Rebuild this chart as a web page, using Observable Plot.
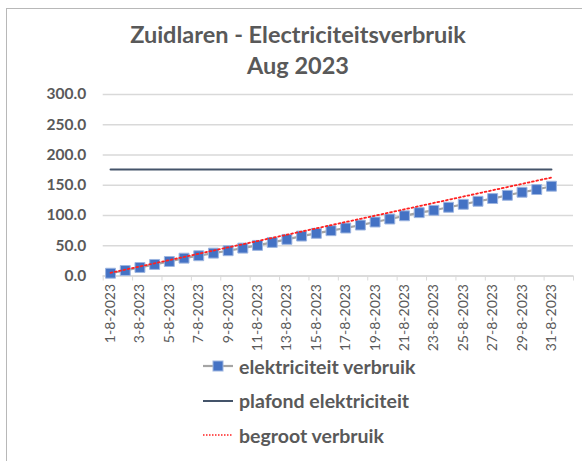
<!DOCTYPE html>
<html>
<head>
<meta charset="utf-8">
<script src="https://cdn.jsdelivr.net/npm/d3@7"></script>
<script src="https://cdn.jsdelivr.net/npm/@observablehq/plot@0.6"></script>
<style>
  body { margin: 0; background: #fff; font-family: Lato, "Open Sans", sans-serif; }
  #wrap { position: relative; width: 582px; height: 461px; overflow: hidden; }
  #frame { position: absolute; left: 6px; top: 8px; width: 700px; height: 600px;
           border-top: 1.5px solid #b8b8b8; border-left: 1.5px solid #b8b8b8; }
  #title { position: absolute; left: 0; top: 19px; width: 596px; text-align: center;
           font: bold 23.5px Lato, sans-serif; color: #595959; line-height: 31px; }
  #chart { position: absolute; left: 0; top: 84px; }
  #legend { position: absolute; left: 202px; top: 349px; }
  .row { display: flex; align-items: center; height: 34.5px; font: bold 19.5px Lato, sans-serif; color: #595959; }
  .row svg { margin-right: 5px; }
</style>
</head>
<body>
<div id="wrap">
  <div id="frame"></div>
  <div id="title">Zuidlaren - Electriciteitsverbruik<br>Aug 2023</div>
  <div id="chart"></div>
  <div id="legend"></div>
</div>
<script>
// ---- data ----
const days = [1,2,3,4,5,6,7,8,9,10,11,12,13,14,15,16,17,18,19,20,21,22,23,24,25,26,27,28,29,30,31];
const dateLabels = ["1-8-2023","2-8-2023","3-8-2023","4-8-2023","5-8-2023","6-8-2023","7-8-2023","8-8-2023","9-8-2023","10-8-2023",
  "11-8-2023","12-8-2023","13-8-2023","14-8-2023","15-8-2023","16-8-2023","17-8-2023","18-8-2023","19-8-2023","20-8-2023",
  "21-8-2023","22-8-2023","23-8-2023","24-8-2023","25-8-2023","26-8-2023","27-8-2023","28-8-2023","29-8-2023","30-8-2023","31-8-2023"];
const verbruik = [4.6, 9.1, 14.1, 19.1, 24.0, 29.5, 33.5, 37.8, 41.8, 46.1, 50.6, 55.5, 60.5, 66.0, 70.5, 74.9,
  79.3, 84.2, 89.2, 94.2, 99.5, 104.7, 108.6, 113.6, 118.5, 123.5, 128.0, 133.4, 138.4, 142.9, 148.4];
const plafond = [176,176,176,176,176,176,176,176,176,176,176,176,176,176,176,176,
  176,176,176,176,176,176,176,176,176,176,176,176,176,176,176];
const begroot = [5.25, 10.5, 15.75, 21, 26.25, 31.5, 36.75, 42, 47.25, 52.5, 57.75, 63, 68.25, 73.5, 78.75, 84,
  89.25, 94.5, 99.75, 105, 110.25, 115.5, 120.75, 126, 131.25, 136.5, 141.75, 147, 152.25, 157.5, 162.75];
const yTicks = [0, 50, 100, 150, 200, 250, 300];
const seriesNames = ["elektriciteit verbruik", "plafond elektriciteit", "begroot verbruik"];

const rows = days.map((d, i) => ({day: d, verbruik: verbruik[i], plafond: plafond[i], begroot: begroot[i]}));
const labelDays = days.filter(d => d % 2 === 1);
const boundaries = [0.5, 2.5, 4.5, 6.5, 8.5, 10.5, 12.5, 14.5, 16.5, 18.5, 20.5, 22.5, 24.5, 26.5, 28.5, 30.5, 32.5];

const chart = Plot.plot({
  width: 582,
  height: 262,
  marginLeft: 102.7,
  marginRight: 9,
  marginTop: 10,
  marginBottom: 70.5,
  style: {fontFamily: "Lato, sans-serif", color: "#595959", background: "transparent", overflow: "visible"},
  x: {type: "linear", domain: [0.5, 32.5], label: null},
  y: {domain: [0, 300], label: null},
  marks: [
    Plot.gridY(yTicks, {stroke: "#d9d9d9", strokeOpacity: 1, strokeWidth: 1.4}),
    Plot.axisY(yTicks, {tickSize: 0, tickPadding: 17, tickFormat: d => d.toFixed(1), fontSize: 15.5, fontWeight: "bold", fill: "#595959", label: null}),
    Plot.ruleY([0], {stroke: "#d9d9d9", strokeWidth: 1.4}),
    Plot.axisX(boundaries, {tickSize: 5, stroke: "#d9d9d9", tickFormat: () => "", label: null}),
    Plot.axisX(labelDays, {tickSize: 0, tickPadding: 8, tickRotate: -90, fontSize: 14, fill: "#595959", label: null,
      tickFormat: d => dateLabels[d - 1]}),
    Plot.line(rows, {x: "day", y: "plafond", stroke: "#44546a", strokeWidth: 2}),
    Plot.line(rows, {x: "day", y: "verbruik", stroke: "#a5a5a5", strokeWidth: 2.2}),
    Plot.dot(rows, {x: "day", y: "verbruik", symbol: "square", r: 5.6, fill: "#4472c4", stroke: "#9db5e0", strokeWidth: 1}),
    Plot.line(rows, {x: "day", y: "begroot", stroke: "#ff2020", strokeWidth: 1.8, strokeDasharray: "1.8,2.6"})
  ]
});
document.getElementById("chart").appendChild(chart);

// ---- legend ----
const legend = d3.select("#legend");
const swatches = [
  s => { s.append("line").attr("x1", 1).attr("x2", 31).attr("y1", 6).attr("y2", 6).attr("stroke", "#a5a5a5").attr("stroke-width", 2.2);
         s.append("rect").attr("x", 11).attr("y", 1).attr("width", 10).attr("height", 10).attr("fill", "#4472c4").attr("stroke", "#9db5e0"); },
  s => { s.append("line").attr("x1", 1).attr("x2", 31).attr("y1", 6).attr("y2", 6).attr("stroke", "#44546a").attr("stroke-width", 2); },
  s => { s.append("line").attr("x1", 1).attr("x2", 31).attr("y1", 6).attr("y2", 6).attr("stroke", "#ff2020").attr("stroke-width", 1.5).attr("stroke-dasharray", "1.5,1.5"); }
];
seriesNames.forEach((name, i) => {
  const row = legend.append("div").attr("class", "row");
  const s = row.append("svg").attr("width", 32).attr("height", 12);
  swatches[i](s);
  row.append("span").text(name);
});
</script>
</body>
</html>
